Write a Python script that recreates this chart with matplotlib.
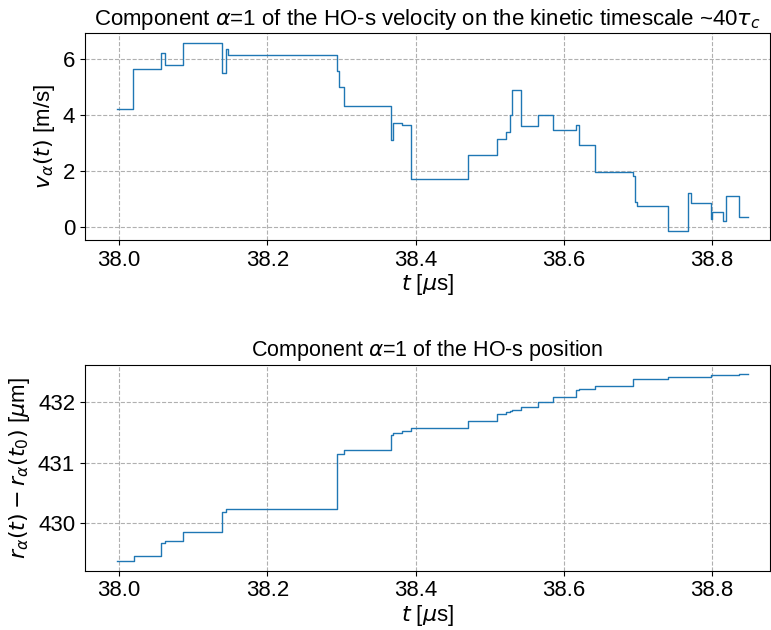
import matplotlib
matplotlib.use("Agg")
import matplotlib.pyplot as plt

# velocity component (step changes), t in microseconds, v in m/s
t_vel = [37.997, 38.019, 38.056, 38.062, 38.086, 38.1385, 38.144, 38.1466, 38.294, 38.297,
         38.303, 38.3664, 38.370, 38.382, 38.394, 38.470, 38.510, 38.5215, 38.527, 38.530,
         38.542, 38.5647, 38.585, 38.617, 38.621, 38.6415, 38.6936, 38.6955, 38.699, 38.741,
         38.768, 38.772, 38.798, 38.800, 38.815, 38.8186, 38.8357, 38.848]
vel = [4.21, 5.63, 6.19, 5.79, 6.57, 5.50, 6.35, 6.14, 5.55, 4.99,
       4.30, 3.11, 3.71, 3.64, 1.70, 2.58, 3.14, 3.39, 3.98, 4.89,
       3.61, 3.98, 3.44, 3.65, 2.93, 1.96, 1.83, 0.90, 0.76, -0.14,
       1.21, 0.87, 0.27, 0.55, 0.21, 1.10, 0.36, 0.36]

# position component, micrometres
t_pos = [37.997, 38.0198, 38.056, 38.062, 38.086, 38.1385, 38.144, 38.294, 38.303, 38.3664,
         38.370, 38.382, 38.394, 38.470, 38.510, 38.5215, 38.527, 38.530, 38.542, 38.5647,
         38.585, 38.617, 38.621, 38.6415, 38.6936, 38.741, 38.798, 38.8357, 38.848]
pos = [429.365, 429.46, 429.67, 429.70, 429.85, 430.19, 430.23, 431.15, 431.21, 431.465,
       431.49, 431.53, 431.57, 431.70, 431.81, 431.84, 431.86, 431.87, 431.93, 432.005,
       432.09, 432.20, 432.225, 432.28, 432.38, 432.42, 432.45, 432.47, 432.47]

x_ticks = [38.0, 38.2, 38.4, 38.6, 38.8]

plt.rcParams['font.family'] = ['Liberation Sans', 'DejaVu Sans']
plt.rcParams['font.size'] = 16

fig = plt.figure(figsize=(7.71, 6.3), dpi=100)
ax1 = fig.add_axes([0.1102, 0.6186, 0.8885, 0.3286])
ax2 = fig.add_axes([0.1102, 0.0941, 0.8885, 0.327])

ax1.step(t_vel, vel, where='post', color='#1f77b4', lw=1)
ax1.set_title(r'Component $\alpha$=1 of the HO-s velocity on the kinetic timescale ~40$\tau_c$',
              fontsize=16)
ax1.set_xlabel(r'$t$ [$\mu$s]', labelpad=1)
ax1.set_ylabel(r'$v_\alpha(t)$ [m/s]')
ax1.set_yticks([0, 2, 4, 6])

ax2.step(t_pos, pos, where='post', color='#1f77b4', lw=1)
ax2.set_title(r'Component $\alpha$=1 of the HO-s position', fontsize=15.5)
ax2.set_xlabel(r'$t$ [$\mu$s]', labelpad=1)
ax2.set_ylabel(r'$r_\alpha(t) - r_\alpha(t_0)$ [$\mu$m]')
ax2.set_yticks([430, 431, 432])

for ax in (ax1, ax2):
    ax.set_xticks(x_ticks)
    ax.set_xlim(37.954, 38.878)
    ax.grid(True, linestyle='--', color='#b0b0b0')
    ax.tick_params(labelsize=16)

fig.savefig('out.png', dpi=100)
